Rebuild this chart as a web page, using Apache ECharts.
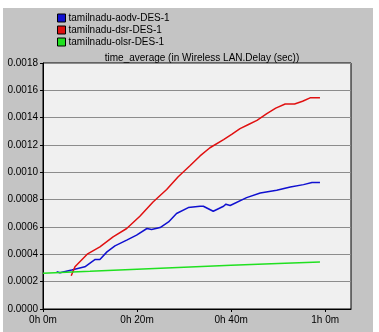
<!DOCTYPE html>
<html>
<head>
<meta charset="utf-8">
<script src="https://cdn.jsdelivr.net/npm/echarts@6/dist/echarts.min.js"></script>
<style>
  html, body { margin: 0; padding: 0; background: #fff; }
  #main { width: 379px; height: 332px; }
</style>
</head>
<body>
<div id="main"></div>
<script>
// time in minutes, delay in seconds
var seriesNames = ['tamilnadu-aodv-DES-1', 'tamilnadu-dsr-DES-1', 'tamilnadu-olsr-DES-1'];
var xTickLabels = ['0h 0m', '0h 20m', '0h 40m', '1h 0m'];

var aodv = [
  [2.9, 0.000272], [3.6, 0.000265], [6.1, 0.000285], [8.9, 0.000309], [11.1, 0.000363],
  [12.1, 0.000363], [13.6, 0.000418], [15.3, 0.000462], [17.8, 0.000504], [19.9, 0.00054],
  [22.1, 0.000589], [23.1, 0.000582], [24.9, 0.000596], [26.7, 0.000637], [28.4, 0.000699],
  [30.9, 0.000742], [33.4, 0.000752], [34.1, 0.000752], [36.2, 0.000715], [38.4, 0.000752],
  [38.9, 0.000767], [39.8, 0.000757], [43.3, 0.000815], [46.2, 0.000849], [49.7, 0.000869],
  [52.6, 0.000893], [55.4, 0.00091], [57.2, 0.000925], [58.9, 0.000925]
];
var dsr = [
  [6.0, 0.000243], [6.8, 0.000309], [9.4, 0.000401], [12.1, 0.000455], [14.9, 0.000528],
  [17.8, 0.000589], [20.6, 0.000679], [23.4, 0.000783], [26.3, 0.000874], [28.7, 0.000966],
  [31.3, 0.00105], [33.4, 0.00112], [35.5, 0.00118], [38.4, 0.00124], [40.2, 0.00128],
  [41.9, 0.00132], [43.7, 0.00135], [45.5, 0.00138], [47.6, 0.00143], [49.5, 0.00147],
  [51.5, 0.0015], [53.5, 0.0015], [55.2, 0.00152], [56.8, 0.001545], [58.9, 0.001545]
];
var olsr = [
  [0, 0.000262], [10, 0.000276], [20, 0.000291], [30, 0.000306], [40, 0.00032],
  [50, 0.000333], [58.9, 0.000343]
];
var seriesData = [aodv, dsr, olsr];
var seriesColors = ['#1010d0', '#e01010', '#20e020'];

var myChart = echarts.init(document.getElementById('main'));

myChart.setOption({
  animation: false,
  backgroundColor: '#ffffff',
  textStyle: { fontFamily: 'Liberation Sans, Arial, sans-serif' },
  graphic: [
    { type: 'rect', z: -10, shape: { x: 3, y: 8, width: 370, height: 324 }, style: { fill: '#c4c4c4' } },
    { type: 'rect', z: -10, shape: { x: 43, y: 63, width: 308, height: 246 }, style: { fill: '#f0f0f0', stroke: '#000', lineWidth: 1 } }
  ],
  title: {
    text: 'time_average (in Wireless LAN.Delay (sec))',
    left: 197,
    top: 48,
    textAlign: 'center',
    textStyle: { fontSize: 10, fontWeight: 'normal', color: '#000' }
  },
  legend: {
    orient: 'vertical',
    left: 52,
    top: 8,
    itemWidth: 8,
    itemHeight: 8,
    itemGap: 2,
    icon: 'rect',
    itemStyle: { borderColor: '#000', borderWidth: 1 },
    textStyle: { fontSize: 10, color: '#000', padding: [0, 0, 0, -2] },
    data: seriesNames
  },
  grid: { left: 43, top: 63, right: 28, bottom: 23 },
  xAxis: {
    type: 'value',
    min: 0,
    max: 65.5,
    interval: 20,
    axisLine: { lineStyle: { color: '#000' } },
    axisTick: { lineStyle: { color: '#000' }, length: 3 },
    axisLabel: {
      fontSize: 10,
      color: '#000',
      margin: 6,
      showMaxLabel: false,
      formatter: function (v) { return xTickLabels[Math.round(v / 20)] || ''; }
    },
    splitLine: { show: false }
  },
  yAxis: {
    type: 'value',
    min: 0,
    max: 0.0018,
    interval: 0.0002,
    axisLine: { show: true, lineStyle: { color: '#000' } },
    axisTick: { show: true, lineStyle: { color: '#000' }, length: 3 },
    axisLabel: {
      fontSize: 10,
      color: '#000',
      margin: 5,
      formatter: function (v) { return v.toFixed(4); }
    },
    splitLine: { lineStyle: { color: '#8c8c8c', width: 1 } }
  },
  series: seriesNames.map(function (name, i) {
    return {
      name: name,
      type: 'line',
      data: seriesData[i],
      symbol: 'none',
      color: seriesColors[i],
      lineStyle: { width: 1.5, color: seriesColors[i] }
    };
  })
});
</script>
</body>
</html>
